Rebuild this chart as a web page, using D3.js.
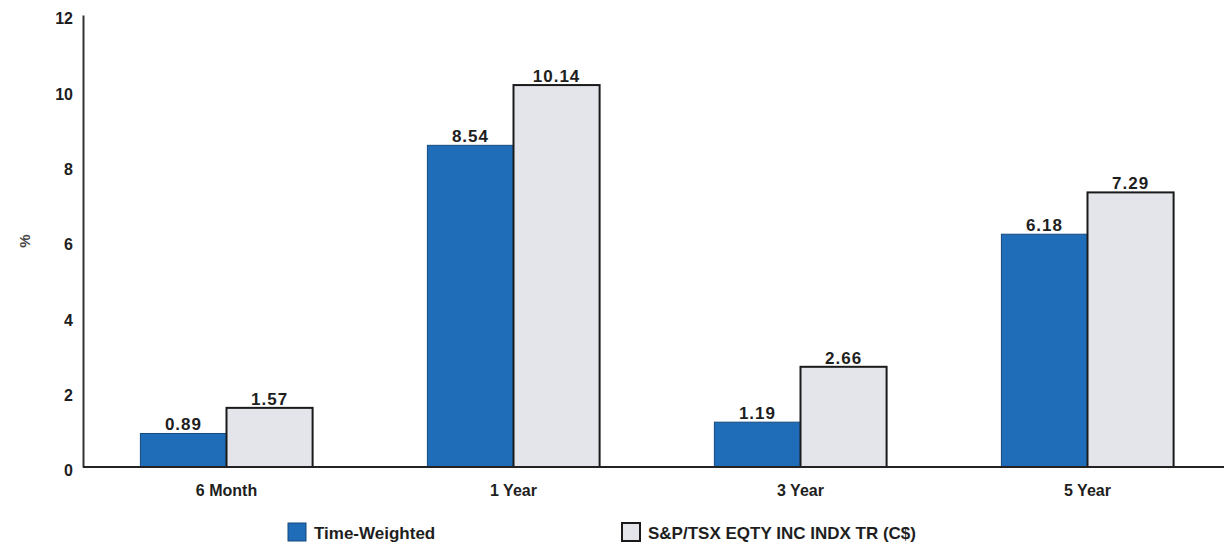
<!DOCTYPE html>
<html><head><meta charset="utf-8">
<script src="https://cdn.jsdelivr.net/npm/d3@7"></script>
<style>body{margin:0;background:#fff;}svg{display:block;}text{font-family:"Liberation Sans",Arial,sans-serif;}</style>
</head><body><svg id="c" width="1224" height="545"></svg>
<script>
const categories = ["6 Month", "1 Year", "3 Year", "5 Year"];
const seriesNames = ["Time-Weighted", "S&P/TSX EQTY INC INDX TR (C$)"];
const timeWeighted = [0.89, 8.54, 1.19, 6.18];
const benchmark = [1.57, 10.14, 2.66, 7.29];
const yTicks = [0, 2, 4, 6, 8, 10, 12];

const svg = d3.select("#c");
const x0 = d3.scaleBand().domain(categories).range([83, 1231]).paddingInner(0.4).paddingOuter(0.2);
const x1 = d3.scaleBand().domain([0, 1]).range([0, x0.bandwidth()]);
const y = d3.scaleLinear().domain([0, 12]).range([467, 15]);
const fills = ["#1f6db8", "#e3e5ea"];
const strokes = ["#16497c", "#1a1a1a"];
const txt = "#1e1e1e";

// y axis
const ya = svg.append("g").attr("transform", "translate(83,0)")
  .call(d3.axisLeft(y).tickValues(yTicks).tickSize(0).tickPadding(10));
ya.select(".domain").attr("stroke", "#333").attr("stroke-width", 2);
ya.selectAll("text").attr("font-size", 16).attr("font-weight", "bold").attr("fill", txt).attr("dy", "0.55em");

svg.append("text").attr("transform", "translate(30,241) rotate(-90)").attr("text-anchor", "middle")
  .attr("font-size", 15).attr("font-weight", "bold").attr("fill", "#444").text("%");

const data = categories.map((c, i) => ({c, v: [timeWeighted[i], benchmark[i]]}));
const g = svg.append("g");
data.forEach(d => {
  d.v.forEach((v, s) => {
    const bx = x0(d.c) + x1(s);
    g.append("rect").attr("x", bx).attr("y", y(v)).attr("width", x1.bandwidth()).attr("height", y(0) - y(v))
      .attr("fill", fills[s]).attr("stroke", strokes[s]).attr("stroke-width", s ? 2 : 1);
    g.append("text").attr("x", bx + x1.bandwidth() / 2).attr("y", y(v) - 3).attr("text-anchor", "middle")
      .attr("font-size", 17).attr("font-weight", "bold").attr("letter-spacing", 1).attr("fill", txt).text(v.toFixed(2));
  });
});

// x axis
const xa = svg.append("g").attr("transform", "translate(0,467)")
  .call(d3.axisBottom(x0).tickSize(0).tickPadding(17));
xa.select(".domain").attr("stroke", "#222").attr("stroke-width", 2).attr("d", "M83,0H1224");
xa.selectAll("text").attr("font-size", 16).attr("font-weight", "bold").attr("fill", txt).attr("dy", "0.72em");

// legend
const legX = [288, 622];
seriesNames.forEach((n, s) => {
  svg.append("rect").attr("x", legX[s]).attr("y", 523).attr("width", 18).attr("height", 18)
    .attr("fill", fills[s]).attr("stroke", strokes[s]).attr("stroke-width", s ? 2 : 1);
  svg.append("text").attr("x", legX[s] + 26).attr("y", 539).attr("font-size", 17).attr("font-weight", "bold")
    .attr("fill", txt).text(n);
});
</script></body></html>
